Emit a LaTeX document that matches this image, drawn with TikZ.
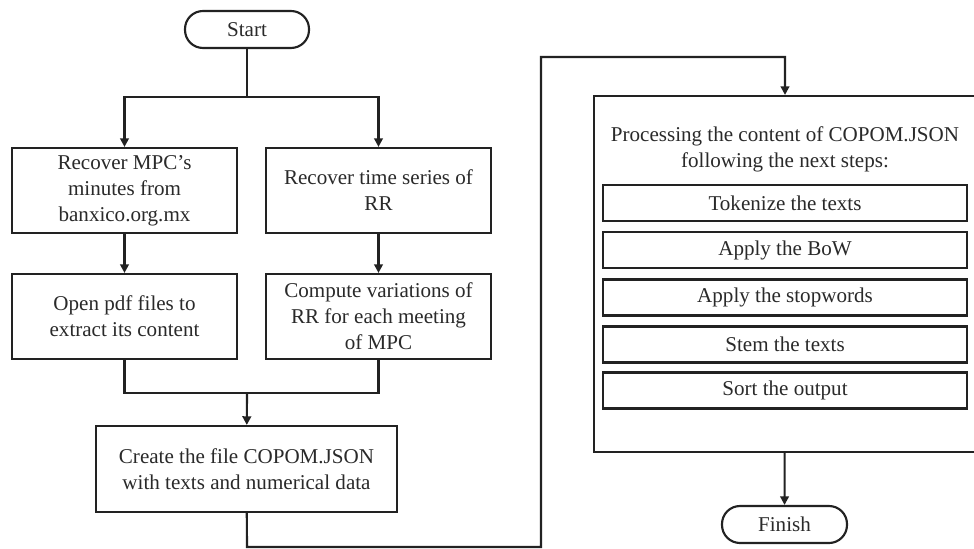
\documentclass[tikz,border=0pt]{standalone}
\usepackage{fontspec}
\setmainfont{Liberation Serif}
\usetikzlibrary{arrows.meta}
\definecolor{ink}{HTML}{222222}
\definecolor{txt}{HTML}{2a2a2a}
\begin{document}
\begin{tikzpicture}[x=0.75pt,y=-0.75pt,
  every node/.style={font=\fontsize{15.8}{19.5}\selectfont, text=txt},
  line/.style={draw=ink, line width=1.6pt},
  arr/.style={line, -{Triangle[length=6.5pt,width=6.5pt]}},
  procbox/.style={line, rectangle, align=center, minimum width=225*0.75pt, minimum height=85*0.75pt, inner sep=0pt},
  term/.style={line, rounded corners=13.5pt, align=center, minimum width=124*0.75pt, minimum height=37*0.75pt, inner sep=0pt},
  stepbox/.style={line, rectangle, align=center, minimum width=364*0.75pt, minimum height=36*0.75pt, inner sep=0pt}
]
\useasboundingbox (0,0) rectangle (974,549);
\clip (0,0) rectangle (974,549);
\fill[white] (0,0) rectangle (974,549);

\node[term] (start) at (247,29.5) {Start};
\node[procbox] (b1) at (124.5,190.5) {Recover MPC’s\\minutes from\\banxico.org.mx};
\node[procbox] (b2) at (378.5,190.5) {Recover time series of\\RR};
\node[procbox] (b3) at (124.5,316.5) {Open pdf files to\\extract its content};
\node[procbox] (b4) at (378.5,316.5) {Compute variations of\\RR for each meeting\\of MPC};
\node[procbox, minimum width=301*0.75pt, minimum height=86*0.75pt] (b5) at (246.5,469) {Create the file COPOM.JSON\\with texts and numerical data};

\node[line, rectangle, minimum width=382*0.75pt, minimum height=356*0.75pt, inner sep=0pt] (proc) at (785,274) {};
\node[align=center] (ptext) at (785,149) {Processing the content of COPOM.JSON\\following the next steps:};
\node[stepbox] (s1) at (785,203) {Tokenize the texts};
\node[stepbox] (s2) at (785,250) {Apply the BoW};
\node[stepbox] (s3) at (785,297.5) {Apply the stopwords};
\node[stepbox] (s4) at (785,344.5) {Stem the texts};
\node[stepbox] (s5) at (785,390.5) {Sort the output};
\node[term, minimum width=125*0.75pt] (finish) at (784.5,524.5) {Finish};

\coordinate (j1) at (247,97);
\coordinate (j2) at (247,393);
\coordinate (c1) at (247,547);
\coordinate (c2) at (541,547);
\coordinate (c3) at (541,57);

\draw[line] (start) -- (j1);
\draw[arr] (j1) -| (b1);
\draw[arr] (j1) -| (b2);
\draw[arr] (b1) -- (b3);
\draw[arr] (b2) -- (b4);
\draw[line] (b3) |- (j2);
\draw[line] (b4) |- (j2);
\draw[arr] (j2) -- (b5);
\draw[arr] (b5) -- (c1) -- (c2) -- (c3) -| (proc.north);
\draw[arr] (proc) -- (finish);
\end{tikzpicture}
\end{document}
